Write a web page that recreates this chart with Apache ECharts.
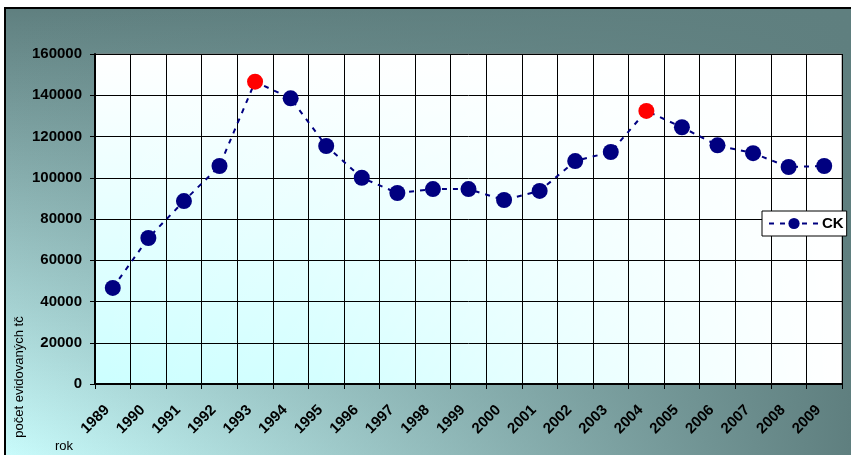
<!DOCTYPE html>
<html><head><meta charset="utf-8">
<script src="https://cdn.jsdelivr.net/npm/echarts@6/dist/echarts.min.js"></script>
<style>html,body{margin:0;padding:0;background:#fff}#c{width:851px;height:455px}</style>
</head><body><div id="c"></div>
<script>
const years = ['1989','1990','1991','1992','1993','1994','1995','1996','1997','1998','1999','2000','2001','2002','2003','2004','2005','2006','2007','2008','2009'];
const values = [46600, 70800, 88700, 105700, 146600, 138500, 115400, 100000, 92600, 94500, 94500, 89200, 93600, 108100, 112500, 132400, 124500, 115700, 111900, 105200, 105700];
const highlightYears = ['1993', '2004'];
const seriesName = 'CK';
const yAxisTitle = 'počet evidovaných tč';
const xAxisTitle = 'rok';

const G = {left: 95, top: 54, width: 747, height: 330};
const dark = '#5f7f7f';
const light = '#ccffff';

const chart = echarts.init(document.getElementById('c'), null, {renderer: 'canvas'});
const dataItems = values.map((v, i) => highlightYears.includes(years[i])
  ? {value: v, itemStyle: {color: '#ff0000'}} : v);

chart.setOption({
  animation: false,
  textStyle: {fontFamily: 'Liberation Sans, Arial, sans-serif'},
  graphic: [
    {type: 'rect', z: -10, shape: {x: 5, y: 8, width: 860, height: 460},
      style: {fill: new echarts.graphic.LinearGradient(0, 0, 0, 1, [{offset: 0, color: dark}, {offset: 1, color: light}]), stroke: '#000', lineWidth: 2}},
    {type: 'rect', z: -9, shape: {x: 6, y: 9, width: 845, height: 446},
      style: {fill: new echarts.graphic.LinearGradient(0, 0, 1, 0, [{offset: 0, color: 'rgba(95,127,127,0)'}, {offset: 1, color: 'rgba(95,127,127,1)'}])}},
    {type: 'rect', z: -8, shape: {x: G.left, y: G.top, width: G.width, height: G.height},
      style: {fill: '#ffffff'}},
    {type: 'rect', z: -7, shape: {x: G.left, y: G.top, width: G.width, height: G.height},
      style: {fill: new echarts.graphic.LinearGradient(0, 0, 0, 1, [{offset: 0, color: 'rgba(204,255,255,0)'}, {offset: 1, color: 'rgba(204,255,255,1)'}])}},
    {type: 'rect', z: -6, shape: {x: G.left, y: G.top, width: G.width, height: G.height},
      style: {fill: new echarts.graphic.LinearGradient(0, 0, 1, 0, [{offset: 0, color: 'rgba(255,255,255,0)'}, {offset: 0.3, color: 'rgba(255,255,255,0.15)'}, {offset: 1, color: 'rgba(255,255,255,1)'}])}},
    {type: 'text', x: 13, y: 377, rotation: Math.PI / 2,
      style: {text: yAxisTitle, fill: '#000', font: '13px "Liberation Sans", Arial, sans-serif', align: 'center', verticalAlign: 'top'}},
    {type: 'text', x: 55, y: 440,
      style: {text: xAxisTitle, fill: '#000', font: '13px "Liberation Sans", Arial, sans-serif', align: 'left', verticalAlign: 'top'}}
  ],
  grid: {left: G.left, top: G.top, width: G.width, height: G.height, show: true,
    backgroundColor: 'transparent', borderColor: '#808080', borderWidth: 1},
  legend: {
    left: 762, top: 211, orient: 'vertical',
    backgroundColor: '#fff', borderColor: '#000', borderWidth: 1,
    padding: [5, 3, 5, 6], itemWidth: 50, itemHeight: 14, itemGap: 4,
    textStyle: {fontSize: 15, fontWeight: 'bold', color: '#000', padding: [0, 0, 0, -2]},
    data: [seriesName]
  },
  xAxis: {
    type: 'category', data: years, boundaryGap: true,
    axisLine: {lineStyle: {color: '#000', width: 2}},
    axisTick: {show: true, length: 5, inside: false, lineStyle: {color: '#000', width: 1}},
    axisLabel: {rotate: 45, interval: 0, margin: 18, padding: [0, 8, 0, 0], fontSize: 15, fontWeight: 'bold', color: '#000'},
    splitLine: {show: true, interval: 0, lineStyle: {color: '#000', width: 1}}
  },
  yAxis: {
    type: 'value', min: 0, max: 160000, interval: 20000,
    axisLine: {show: true, lineStyle: {color: '#000', width: 2}},
    axisTick: {show: true, length: 5, lineStyle: {color: '#000', width: 1}},
    axisLabel: {margin: 13, fontSize: 15, fontWeight: 'bold', color: '#000', formatter: v => String(v)},
    splitLine: {show: true, lineStyle: {color: '#000', width: 1}}
  },
  series: [{
    name: seriesName, type: 'line', data: dataItems,
    symbol: 'circle', symbolSize: 16,
    itemStyle: {color: '#000080'},
    lineStyle: {color: '#000080', width: 2, type: [5, 6]}
  }]
});
</script></body></html>
